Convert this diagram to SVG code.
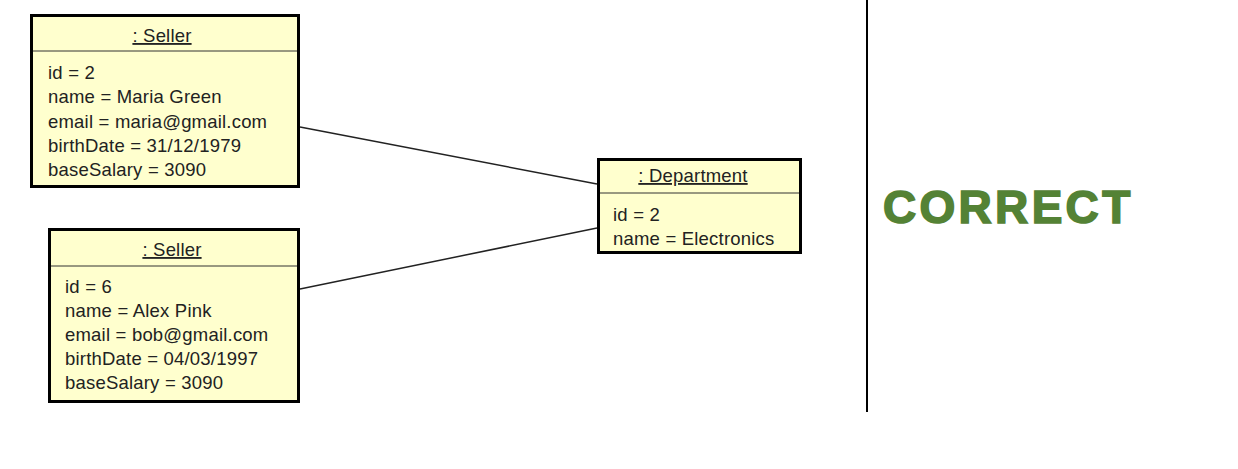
<svg xmlns="http://www.w3.org/2000/svg" width="1238" height="469" viewBox="0 0 1238 469">
<style>
.box{fill:#ffffce;stroke:#000;stroke-width:3}
.div{stroke:#333;stroke-width:1}
.t{font-family:"Liberation Sans",Arial,sans-serif;font-size:18.5px;fill:#222;letter-spacing:0.2px}
.title{text-anchor:middle;text-decoration:underline}
.conn{stroke:#222;stroke-width:1.5;fill:none}
.big{font-family:"Liberation Sans",Arial,sans-serif;font-weight:bold;font-size:46px;fill:#548235;stroke:#548235;stroke-width:1.6;letter-spacing:3.3px}
</style>
<rect width="1238" height="469" fill="#fff"/>
<g id="connectors">
<line class="conn" x1="300" y1="127" x2="597" y2="184"/>
<line class="conn" x1="300" y1="289" x2="597" y2="228"/>
</g>
<g id="seller1">
<rect class="box" x="31.5" y="15.5" width="267" height="171"/>
<line class="div" x1="33" y1="51" x2="297" y2="51"/>
<text class="t title" x="162" y="42">: Seller</text>
<text class="t" x="48" y="79">id = 2</text>
<text class="t" x="48" y="103">name = Maria Green</text>
<text class="t" x="48" y="128">email = maria@gmail.com</text>
<text class="t" x="48" y="152">birthDate = 31/12/1979</text>
<text class="t" x="48" y="176">baseSalary = 3090</text>
</g>
<g id="seller2">
<rect class="box" x="49.5" y="229.5" width="249" height="172"/>
<line class="div" x1="51" y1="266" x2="297" y2="266"/>
<text class="t title" x="172" y="256">: Seller</text>
<text class="t" x="65" y="293">id = 6</text>
<text class="t" x="65" y="317">name = Alex Pink</text>
<text class="t" x="65" y="341">email = bob@gmail.com</text>
<text class="t" x="65" y="365">birthDate = 04/03/1997</text>
<text class="t" x="65" y="389">baseSalary = 3090</text>
</g>
<g id="department">
<rect class="box" x="598.5" y="159.5" width="202" height="93"/>
<line class="div" x1="600" y1="193" x2="799" y2="193"/>
<text class="t title" x="693" y="182">: Department</text>
<text class="t" x="613" y="221">id = 2</text>
<text class="t" x="613" y="245">name = Electronics</text>
</g>
<g id="separator">
<line x1="867" y1="0" x2="867" y2="412" stroke="#000" stroke-width="2"/>
</g>
<g id="label">
<text class="big" x="883" y="223">CORRECT</text>
</g>
</svg>
